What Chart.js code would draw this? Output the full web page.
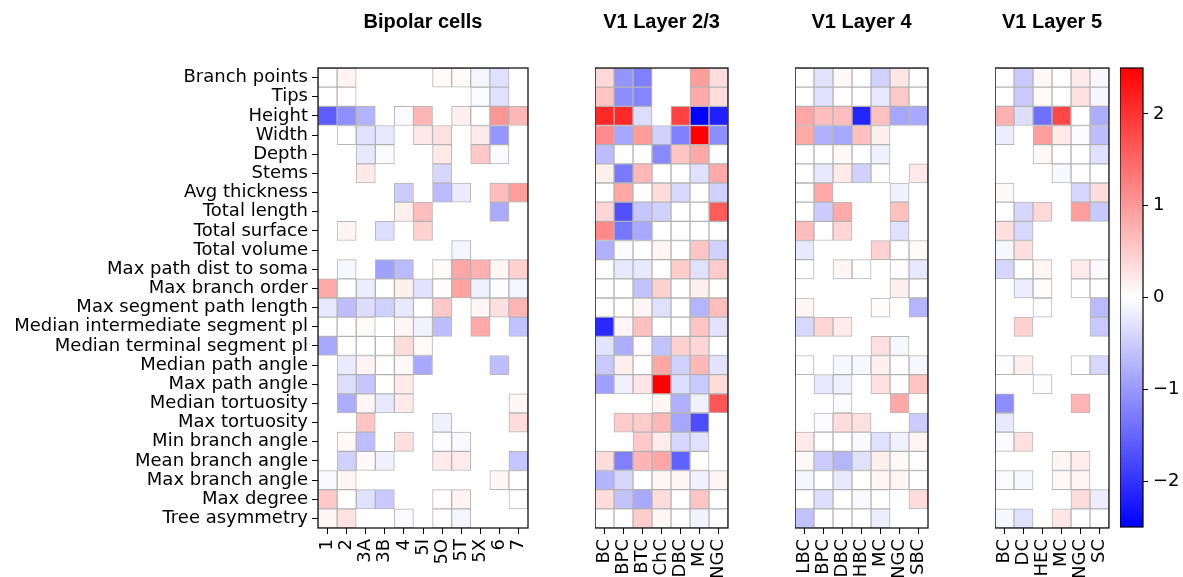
<!DOCTYPE html>
<html lang="en">
<head>
<meta charset="UTF-8" />
<title>Morphology feature heatmaps</title>
<script src="https://cdn.jsdelivr.net/npm/chart.js"></script>
<style>
  body { margin: 0; background: #fff; width: 1183px; height: 577px; position: relative; overflow: hidden; }
  .panel { position: absolute; top: 0; height: 577px; }
</style>
</head>
<body>
<div class="panel" style="left:0;width:548px"><canvas id="bipolarChart"></canvas></div>
<div class="panel" style="left:595px;width:153px"><canvas id="l23Chart"></canvas></div>
<div class="panel" style="left:795px;width:153px"><canvas id="l4Chart"></canvas></div>
<div class="panel" style="left:995px;width:134px"><canvas id="l5Chart"></canvas></div>
<div class="panel" style="left:1120px;width:63px"><canvas id="colorbar"></canvas></div>

<script>
const N = null;

const features = [
  "Branch points", "Tips", "Height", "Width", "Depth", "Stems", "Avg thickness",
  "Total length", "Total surface", "Total volume", "Max path dist to soma",
  "Max branch order", "Max segment path length", "Median intermediate segment pl",
  "Median terminal segment pl", "Median path angle", "Max path angle",
  "Median tortuosity", "Max tortuosity", "Min branch angle", "Mean branch angle",
  "Max branch angle", "Max degree", "Tree asymmetry"
];

const bipolarCols = ["1", "2", "3A", "3B", "4", "5I", "5O", "5T", "5X", "6", "7"];
const bipolarValues = [
  [0, 0.1, N, N, N, N, 0.05, 0.05, -0.1, -0.3, N],
  [0, 0.02, N, N, N, N, N, N, -0.05, -0.3, N],
  [-1.6, -1.1, -0.75, N, -0.05, 0.73, N, 0.15, 0, 1.03, 0.7],
  [N, 0, -0.3, -0.23, N, 0.23, 0.3, N, 0.2, -1.03, N],
  [N, N, -0.23, -0.05, N, N, 0.22, N, 0.53, -0.05, N],
  [N, N, 0.22, N, N, N, -0.4, N, N, N, N],
  [N, N, N, N, -0.5, N, -0.68, -0.2, N, 0.65, 0.97],
  [N, N, N, N, 0.15, 0.65, N, N, N, -0.83, N],
  [N, 0.1, N, -0.33, N, 0.45, N, N, N, N, N],
  [N, N, N, N, N, N, N, -0.1, N, N, N],
  [N, -0.08, N, -0.93, -0.68, N, 0.05, 0.87, 0.77, 0.1, 0.45],
  [0.85, 0, -0.18, 0, 0.15, -0.28, 0.03, 0.9, -0.15, -0.02, -0.1],
  [-0.23, -0.65, -0.33, -0.45, -0.23, 0, 0.53, N, 0.1, 0.3, 0.73],
  [0, 0, 0.05, N, 0.08, -0.12, -0.65, N, 0.83, N, -0.6],
  [-0.85, 0, 0, 0, 0.33, 0.05, N, N, N, N, N],
  [N, -0.2, 0.12, 0, 0.07, -0.85, N, N, N, -0.65, N],
  [N, -0.33, -0.57, 0, 0.22, N, N, N, N, N, N],
  [N, -0.8, 0.08, -0.23, 0.22, N, N, N, N, N, 0.08],
  [N, N, 0.58, N, N, N, -0.15, N, N, N, 0.33],
  [N, 0.06, -0.65, N, 0.3, N, -0.02, -0.06, N, N, N],
  [N, -0.45, 0.06, -0.15, N, N, 0.2, 0.2, N, N, -0.57],
  [-0.06, 0.1, N, N, N, N, N, N, N, 0.08, 0],
  [0.53, 0, -0.3, -0.53, N, N, 0.02, 0.12, N, N, 0.01],
  [0.08, 0.28, N, N, -0.05, N, 0.02, -0.1, N, N, N]
];

const l23Cols = ["BC", "BPC", "BTC", "ChC", "DBC", "MC", "NGC"];
const l23Values = [
  [0.38, -1.05, -1.25, N, N, 0.97, 0.33],
  [0.58, -1.12, -1.2, N, N, 0.82, 0.33],
  [2.1, 2.1, -0.33, N, 1.85, -2.5, -2.2],
  [1.13, -0.87, 0.97, -0.45, -1.25, 2.5, -1.12],
  [-0.65, 0, 0, -1.17, 0.58, 0.85, 0],
  [0.15, -1.3, 0.7, 0, 0, -0.3, 0.83],
  [0, 0.87, 0, 0.33, -0.38, 0, -0.45],
  [0.4, -1.72, -0.57, -0.45, 0, 0, 1.6],
  [1.17, -1.33, -0.85, 0, 0.01, 0, 0],
  [-0.77, -0.05, 0, 0.1, 0, 0.57, -0.45],
  [0.02, -0.23, -0.23, 0, 0.5, -0.3, 0.5],
  [0, 0, -0.6, 0.45, 0, 0.15, 0],
  [0, 0, 0.1, -0.3, 0, -0.73, 0.65],
  [-2.1, 0.1, 0.62, 0, 0, 0.57, -0.27],
  [-0.27, -0.8, 0.02, -0.6, 0.45, 0.4, 0],
  [-0.53, 0.15, 0, 0.87, -0.45, 0.7, -0.27],
  [-0.93, -0.15, 0.25, 2.5, -0.33, -0.53, 0.33],
  [N, N, N, 0.1, -0.77, -0.15, 1.65],
  [N, 0.5, 0.5, 0.7, -0.87, -1.75, N],
  [N, N, 0.53, 0.2, -0.4, -0.3, N],
  [0.33, -1.25, 0.73, 0.87, -1.55, 0, N],
  [-0.73, -0.4, 0, 0.08, 0.08, -0.15, 0.1],
  [0.33, -0.6, -0.85, 0.35, 0, 0.57, 0],
  [0, 0, 0.5, 0.08, 0, -0.12, 0]
];

const l4Cols = ["LBC", "BPC", "DBC", "HBC", "MC", "NGC", "SBC"];
const l4Values = [
  [0, -0.27, 0.07, 0, -0.45, 0.25, 0],
  [0, -0.3, 0.02, 0, -0.23, 0.53, 0],
  [0.87, 0.65, 0.65, -2.15, 0.62, -0.87, -0.85],
  [0.85, -0.77, -0.85, 0.62, 0.15, N, N],
  [0, 0, 0.06, 0, -0.15, N, N],
  [0, -0.23, 0.22, -0.45, 0.02, N, 0.22],
  [0, 0.85, N, N, N, -0.15, N],
  [0, -0.5, 0.83, N, N, 0.62, N],
  [0.65, 0, 0.4, N, N, -0.3, N],
  [-0.23, N, N, N, 0.45, 0, 0.05],
  [0, N, 0.1, 0, N, 0.02, -0.23],
  [N, N, N, N, N, 0.15, 0],
  [0.08, N, N, N, 0.03, N, -0.73],
  [-0.38, 0.4, 0.2, N, N, N, N],
  [N, N, N, N, 0.3, -0.08, N],
  [0, N, -0.08, -0.08, 0.15, 0.02, -0.08],
  [N, -0.23, -0.15, N, 0.3, 0, 0.57],
  [N, N, -0.05, N, N, 0.85, N],
  [N, -0.04, 0.33, 0.3, N, N, -0.5],
  [0.22, 0, 0, -0.06, -0.3, -0.15, 0.1],
  [0.07, -0.5, -0.73, -0.3, 0.15, 0.06, 0.02],
  [-0.1, 0, -0.22, 0, 0.1, 0.1, 0],
  [0, -0.33, 0, -0.06, 0.01, N, 0.33],
  [-0.6, 0.02, 0.02, 0, -0.18, N, N]
];

const l5Cols = ["BC", "DC", "HEC", "MC", "NGC", "SC"];
const l5Values = [
  [0, -0.53, 0.07, 0, 0.22, -0.08],
  [0, -0.53, 0.05, 0, 0.3, -0.1],
  [0.77, -0.32, -1.4, 1.8, 0, -0.8],
  [-0.18, N, 0.95, 0.22, -0.05, -0.65],
  [N, N, 0.07, 0, 0, -0.3],
  [N, N, N, -0.07, 0.02, 0],
  [0.06, N, N, N, -0.4, 0.33],
  [0, -0.4, 0.37, N, 0.95, -0.53],
  [0.3, -0.38, N, N, N, N],
  [-0.08, 0.3, N, N, N, N],
  [-0.4, 0, 0.1, N, 0.2, -0.06],
  [N, -0.18, 0.03, N, 0, 0],
  [N, N, 0, N, N, -0.68],
  [N, 0.45, N, N, N, -0.53],
  [N, N, N, N, N, N],
  [-0.02, 0.15, N, N, 0, -0.38],
  [N, N, -0.02, N, N, N],
  [-1.12, N, N, N, 0.73, N],
  [-0.23, N, N, N, N, N],
  [-0.04, 0.3, N, N, N, N],
  [N, N, N, 0.1, 0.18, N],
  [-0.04, -0.08, N, 0.07, 0.1, N],
  [N, N, N, N, 0.33, -0.18],
  [-0.08, -0.3, N, 0.25, 0, 0]
];

const cbMin = -2.5;
const cbMax = 2.5;
const cbTicks = [-2, -1, 0, 1, 2];

Chart.defaults.font.family = "DejaVu Sans";
Chart.defaults.font.size = 18;
Chart.defaults.color = "#000";

// matplotlib "bwr": blue -> white -> red
function bwr(v) {
  if (v === null) return "rgba(0,0,0,0)";
  let t = v / cbMax;
  t = Math.max(-1, Math.min(1, t));
  if (t >= 0) {
    const c = Math.round(255 * (1 - t));
    return `rgb(255,${c},${c})`;
  }
  const c = Math.round(255 * (1 + t));
  return `rgb(${c},${c},255)`;
}

const frame = {
  id: "frame",
  afterDatasetsDraw(chart) {
    const { ctx, chartArea: a } = chart;
    ctx.save();
    ctx.strokeStyle = "#000";
    ctx.lineWidth = 1.2;
    ctx.strokeRect(a.left, a.top, a.right - a.left, a.bottom - a.top);
    ctx.restore();
  },
};

function makePanel(id, title, cols, values, labelWidth) {
  const datasets = cols.map((col, c) => ({
    label: col,
    data: values.map((row) => (row[c] === null ? null : [c, c + 1])),
    backgroundColor: values.map((row) => bwr(row[c])),
    borderColor: "rgba(170,170,170,0.85)",
    borderWidth: 1,
    borderSkipped: false,
    grouped: false,
    categoryPercentage: 1,
    barPercentage: 1,
  }));

  return new Chart(document.getElementById(id), {
    type: "bar",
    data: { labels: features, datasets: datasets },
    options: {
      indexAxis: "y",
      responsive: true,
      maintainAspectRatio: false,
      animation: false,
      layout: { padding: { right: 20 } },
      plugins: {
        legend: { display: false },
        tooltip: { enabled: false },
        title: {
          display: true,
          text: title,
          fullSize: false,
          color: "#000",
          font: { family: "Liberation Sans", size: 20, weight: "bold" },
          padding: { top: 10, bottom: 34 },
        },
      },
      scales: {
        x: {
          type: "linear",
          min: 0,
          max: cols.length,
          afterBuildTicks: (axis) => {
            axis.ticks = cols.map((_, i) => ({ value: i + 0.5 }));
          },
          afterFit: (axis) => {
            axis.height = 49;
          },
          ticks: {
            autoSkip: false,
            minRotation: 90,
            maxRotation: 90,
            padding: 5,
            callback: (v, i) => cols[i],
          },
          grid: { drawOnChartArea: false, tickLength: 6, color: "#000" },
          border: { display: false },
        },
        y: {
          display: labelWidth > 0,
          afterFit: (axis) => {
            axis.width = labelWidth;
          },
          ticks: { autoSkip: false, padding: 4 },
          grid: { drawOnChartArea: false, offset: false, tickLength: 6, color: "#000" },
          border: { display: false },
        },
      },
    },
    plugins: [frame],
  });
}

makePanel("bipolarChart", "Bipolar cells", bipolarCols, bipolarValues, 318);
makePanel("l23Chart", "V1 Layer 2/3", l23Cols, l23Values, 0);
makePanel("l4Chart", "V1 Layer 4", l4Cols, l4Values, 0);
makePanel("l5Chart", "V1 Layer 5", l5Cols, l5Values, 0);

new Chart(document.getElementById("colorbar"), {
  type: "bar",
  data: {
    labels: [""],
    datasets: [
      {
        data: [[cbMin, cbMax]],
        backgroundColor: (ctx) => {
          const area = ctx.chart.chartArea;
          if (!area) return "#fff";
          const g = ctx.chart.ctx.createLinearGradient(0, area.bottom, 0, area.top);
          g.addColorStop(0, "rgb(0,0,255)");
          g.addColorStop(0.5, "rgb(255,255,255)");
          g.addColorStop(1, "rgb(255,0,0)");
          return g;
        },
        borderWidth: 0,
        categoryPercentage: 1,
        barPercentage: 1,
      },
    ],
  },
  options: {
    responsive: true,
    maintainAspectRatio: false,
    animation: false,
    layout: { padding: { top: 68, bottom: 50 } },
    plugins: { legend: { display: false }, tooltip: { enabled: false } },
    scales: {
      x: { display: false },
      y: {
        position: "right",
        min: cbMin,
        max: cbMax,
        afterBuildTicks: (axis) => {
          axis.ticks = cbTicks.map((v) => ({ value: v }));
        },
        afterFit: (axis) => {
          axis.width = 40;
        },
        ticks: {
          padding: 5,
          callback: (v) => (v < 0 ? "\u2212" + Math.abs(v) : String(v)),
        },
        grid: { drawOnChartArea: false, tickLength: 5, color: "#000" },
        border: { display: false },
      },
    },
  },
  plugins: [frame],
});
</script>
</body>
</html>
